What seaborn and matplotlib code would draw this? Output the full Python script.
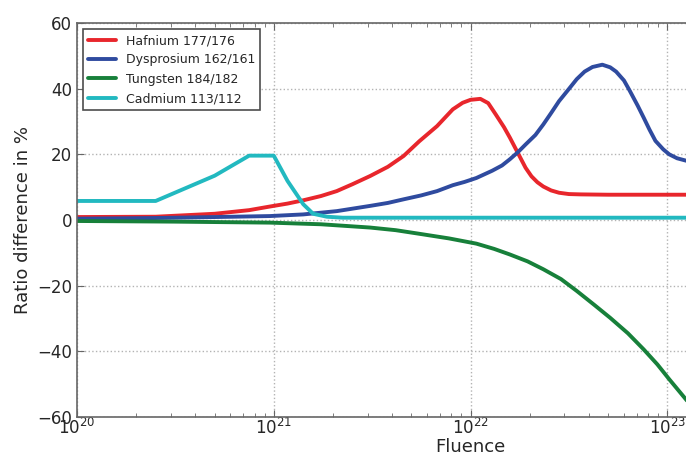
import numpy as np
import pandas as pd
import matplotlib
matplotlib.use("Agg")
import matplotlib.pyplot as plt
import seaborn as sns

# log10(fluence) and ratio difference in %
hf_logx = [20.0, 20.4, 20.7, 20.875, 20.98, 21.07, 21.15, 21.24, 21.32, 21.40,
           21.49, 21.58, 21.66, 21.74, 21.83, 21.91, 21.96, 22.0, 22.05, 22.09,
           22.13, 22.17, 22.20, 22.24, 22.28, 22.31, 22.34, 22.37, 22.41, 22.45,
           22.50, 22.56, 22.7, 23.2]
hf_val = [0.9, 1.0, 1.9, 3.0, 4.1, 5.0, 6.0, 7.3, 8.8, 10.9,
          13.4, 16.2, 19.5, 24.0, 28.6, 33.7, 35.7, 36.6, 36.9, 35.6,
          32.0, 28.3, 25.1, 20.5, 15.9, 13.3, 11.5, 10.2, 9.0, 8.3,
          7.9, 7.8, 7.7, 7.7]

dy_logx = [20.0, 20.4, 20.7, 20.98, 21.15, 21.32, 21.49, 21.58, 21.66, 21.75,
           21.83, 21.91, 21.97, 22.03, 22.11, 22.16, 22.20, 22.24, 22.28, 22.33,
           22.37, 22.41, 22.45, 22.50, 22.54, 22.58, 22.62, 22.67, 22.71, 22.74,
           22.78, 22.81, 22.85, 22.88, 22.91, 22.94, 22.98, 23.01, 23.05, 23.10,
           23.2]
dy_val = [0.4, 0.6, 0.9, 1.2, 1.7, 2.7, 4.3, 5.2, 6.3, 7.5,
          8.8, 10.6, 11.6, 12.8, 15.0, 16.6, 18.5, 20.6, 23.0, 25.9,
          29.1, 32.6, 36.2, 39.9, 42.9, 45.2, 46.6, 47.3, 46.5, 45.2,
          42.5, 39.3, 34.8, 31.2, 27.5, 24.1, 21.5, 20.0, 18.8, 18.0,
          17.2]

w_logx = [20.0, 20.5, 20.98, 21.24, 21.49, 21.62, 21.74, 21.89, 22.03, 22.12,
          22.20, 22.29, 22.37, 22.46, 22.54, 22.63, 22.71, 22.80, 22.88, 22.95,
          23.01, 23.10, 23.2]
w_val = [-0.3, -0.5, -0.8, -1.3, -2.3, -3.1, -4.2, -5.6, -7.2, -8.8,
         -10.5, -12.6, -15.0, -18.0, -21.6, -25.9, -29.8, -34.5, -39.4, -44.0,
         -48.5, -55.0, -62.0]

cd_logx = [20.0, 20.4, 20.7, 20.875, 21.0, 21.07, 21.15, 21.20, 21.27, 21.35, 23.2]
cd_val = [5.8, 5.8, 13.5, 19.6, 19.6, 11.9, 4.8, 1.9, 1.0, 0.7, 0.7]

labels = ["Hafnium 177/176", "Dysprosium 162/161", "Tungsten 184/182", "Cadmium 113/112"]
colors = ["#e8262c", "#2f4b9f", "#17803a", "#22b9c0"]

series = [(hf_logx, hf_val), (dy_logx, dy_val), (w_logx, w_val), (cd_logx, cd_val)]
frames = []
for name, (lx, v) in zip(labels, series):
    frames.append(pd.DataFrame({"fluence": np.power(10.0, lx), "ratio": v, "isotope": name}))
df = pd.concat(frames, ignore_index=True)

sns.set_style("ticks")
plt.rcParams["font.family"] = ["DejaVu Sans"]

fig = plt.figure(figsize=(6.86, 4.59), dpi=100)
# axes run past the right edge, like the cropped original
ax = fig.add_axes([77 / 686, 42 / 459, 787 / 686, 394 / 459])

sns.lineplot(data=df, x="fluence", y="ratio", hue="isotope", hue_order=labels,
             palette=colors, linewidth=2.8, sort=False, estimator=None, ax=ax)
for ln in ax.lines:
    ln.set_solid_joinstyle("round")
    ln.set_solid_capstyle("round")

ax.set_xscale("log")
ax.set_xlim(1e20, 1e24)
ax.set_ylim(-60, 60)
ax.set_yticks(np.arange(-60, 61, 20))
ax.grid(True, which="major", linestyle=":", color="0.7", linewidth=1)
ax.tick_params(which="both", direction="in", top=True, right=True, labelsize=12,
               color="0.4")
ax.tick_params(which="major", length=5)
ax.tick_params(which="minor", length=3)
ax.tick_params(axis="x", pad=1)
for s in ax.spines.values():
    s.set_color("0.4")
    s.set_linewidth(1.2)

ax.set_xlabel("Fluence", fontsize=13, labelpad=0)
ax.set_ylabel("Ratio difference in %", fontsize=13)

leg = ax.legend(loc="upper left", fontsize=9, frameon=True, fancybox=False,
                edgecolor="0.3", framealpha=1, handlelength=2.2,
                borderaxespad=0.5)
leg.get_frame().set_linewidth(1.2)

fig.savefig("out.png", dpi=100)
